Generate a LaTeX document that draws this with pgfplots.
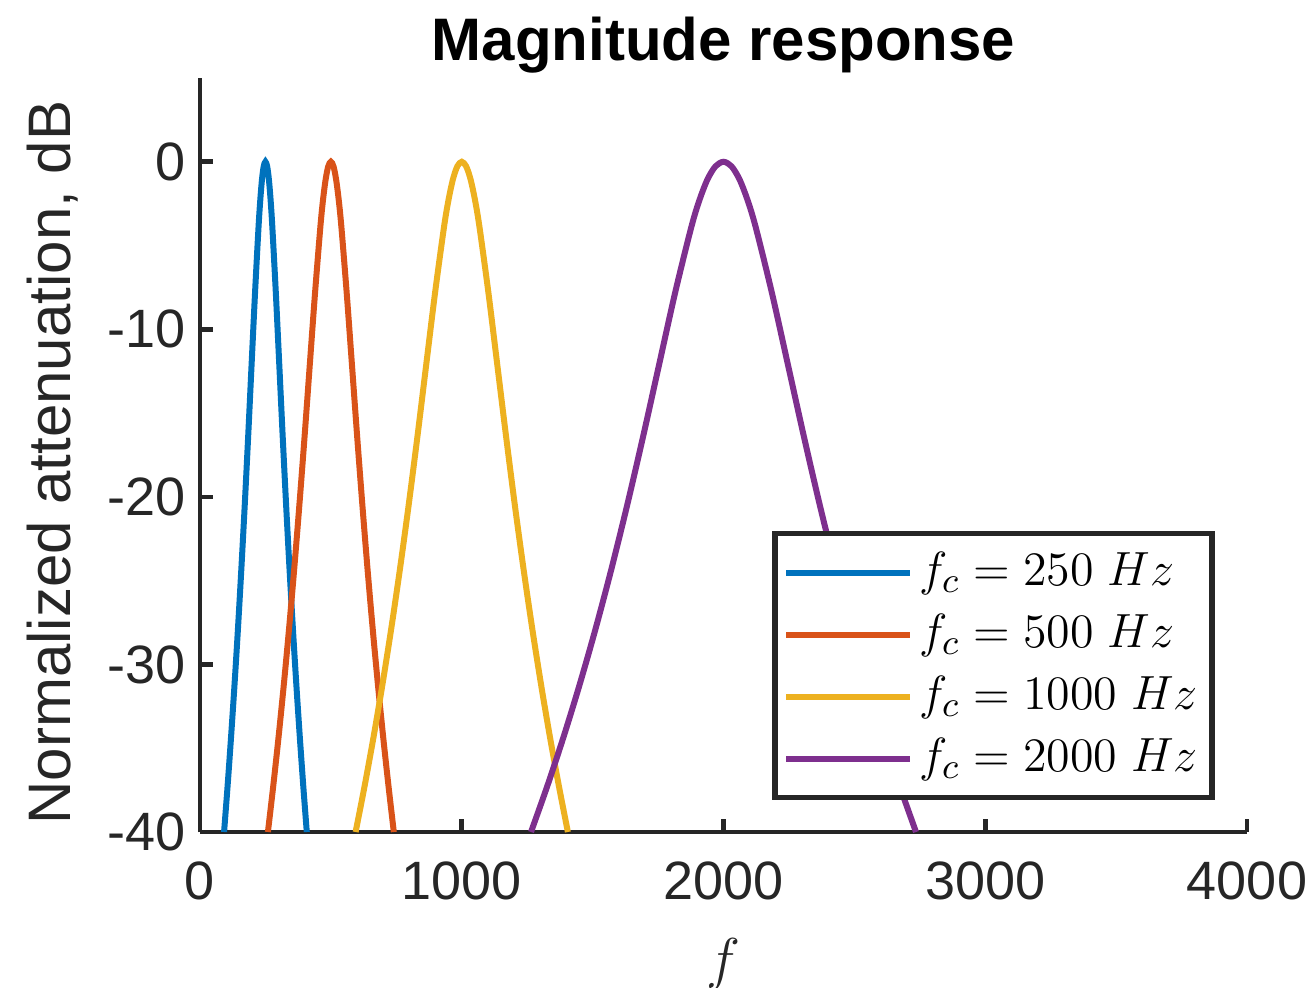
\documentclass[border=0pt]{standalone}
\usepackage{pgfplots}
\pgfplotsset{compat=1.18}
\usepackage{pgfplotstable}
\usepackage{fontspec}
\setmainfont{Liberation Sans}
\definecolor{mblue}{rgb}{0,0.447,0.741}
\definecolor{morange}{rgb}{0.85,0.325,0.098}
\definecolor{myellow}{rgb}{0.929,0.694,0.125}
\definecolor{mpurple}{rgb}{0.494,0.184,0.556}
\definecolor{axgray}{rgb}{0.15,0.15,0.15}

\pgfplotstableread{
db f250 f500 f1000 f2000
-40 92.0 259.5 594.5 1264.6
-37.304 105.2 279.5 628.3 1325.8
-34.414 118.3 299.6 662.1 1387.1
-31.306 131.5 319.6 695.9 1448.4
-27.959 144.7 339.7 729.7 1509.7
-24.352 157.8 359.7 763.5 1571.0
-20.475 171.0 379.7 797.3 1632.3
-16.346 184.2 399.8 831.1 1693.6
-12.041 197.3 419.8 864.8 1754.9
-7.753 210.5 439.9 898.6 1816.1
-3.876 223.7 459.9 932.4 1877.4
-2.286 230.3 469.9 949.3 1908.1
-1.053 236.8 480.0 966.2 1938.7
-0.269 243.4 490.0 983.1 1969.4
0 250 500 1000 2000
-0.269 256.6 510.0 1016.9 2030.6
-1.053 263.2 520.0 1033.8 2061.3
-2.286 269.8 530.1 1050.7 2091.9
-3.876 276.3 540.1 1067.6 2122.6
-7.753 289.5 560.1 1101.4 2183.9
-12.041 302.7 580.2 1135.2 2245.2
-16.346 315.8 600.2 1169.0 2306.4
-20.475 329.0 620.3 1202.7 2367.7
-24.352 342.2 640.3 1236.5 2429.0
-27.959 355.3 660.3 1270.3 2490.3
-31.306 368.5 680.4 1304.1 2551.6
-34.414 381.7 700.4 1337.9 2612.9
-37.304 394.8 720.5 1371.7 2674.2
-40 408.0 740.5 1405.5 2735.5
}\data

\begin{document}
\begin{tikzpicture}
\begin{axis}[
  scale only axis,
  width=261.75pt, height=188.5pt,
  xmin=0, xmax=4000, ymin=-40, ymax=5,
  axis x line*=bottom, axis y line*=left,
  axis line style={-, draw=axgray, line width=1.2pt},
  xtick={0,1000,2000,3000,4000},
  ytick={-40,-30,-20,-10,0},
  tick align=inside,
  major tick length=3.3pt,
  tick style={draw=axgray, line width=1.2pt},
  /pgf/number format/assume math mode=true,
  /pgf/number format/1000 sep={},
  tick label style={font=\fontsize{13.5}{16}\selectfont, text=axgray},
  xticklabel style={yshift=-4pt},
  xlabel={$f$},
  xlabel style={font=\fontsize{15}{18}\selectfont, text=axgray, at={(axis description cs:0.5,-0.175)}, anchor=center},
  ylabel={Normalized attenuation, dB},
  ylabel style={font=\fontsize{15}{18}\selectfont, text=axgray, at={(axis description cs:-0.141,0.49)}, anchor=center},
  title={Magnitude response},
  title style={font=\fontsize{15}{18}\selectfont\bfseries, text=black, at={(axis description cs:0.5,1.012)}, anchor=center},
  clip=true,
  legend cell align=left,
  legend image code/.code={\draw[#1, line width=1.5pt] (0pt,0pt) -- (31pt,0pt);},
  legend style={at={(0.969,0.042)}, anchor=south east, draw=axgray, line width=1.3pt, fill=white,
    font=\fontsize{12.5}{15}\selectfont, inner xsep=2pt, inner ysep=2.5pt, row sep=1pt,
    nodes={inner ysep=1pt, inner xsep=1.5pt, text height=9.5pt, text depth=3pt}},
]
\addplot[mblue, line width=1.5pt, smooth] table[x=f250, y=db] {\data};
\addlegendentry{$f_c = 250\ Hz$}
\addplot[morange, line width=1.5pt, smooth] table[x=f500, y=db] {\data};
\addlegendentry{$f_c = 500\ Hz$}
\addplot[myellow, line width=1.5pt, smooth] table[x=f1000, y=db] {\data};
\addlegendentry{$f_c = 1000\ Hz$}
\addplot[mpurple, line width=1.5pt, smooth] table[x=f2000, y=db] {\data};
\addlegendentry{$f_c = 2000\ Hz$}
\end{axis}
\pgfresetboundingbox
\path[use as bounding box] (-50pt,-38.75pt) rectangle (279pt,208pt);
\end{tikzpicture}
\end{document}
